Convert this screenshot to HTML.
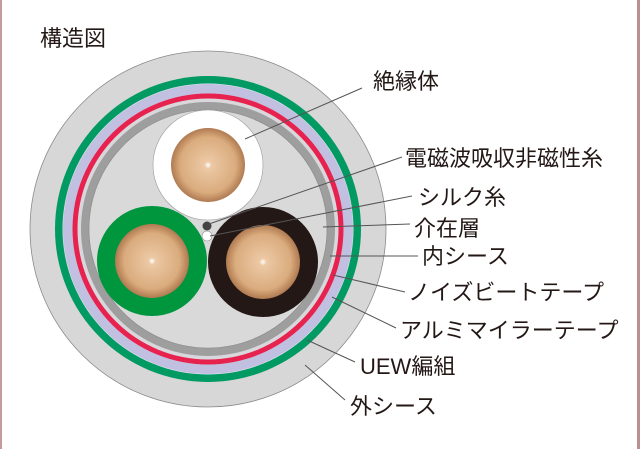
<!DOCTYPE html>
<html><head><meta charset="utf-8"><style>
html,body{margin:0;padding:0;background:#fff}
svg{display:block}
text{font-family:"Liberation Sans","Noto Sans CJK JP",sans-serif;fill:#231815;font-size:22px}
</style></head><body>
<svg width="640" height="449" viewBox="0 0 640 449" xmlns="http://www.w3.org/2000/svg">
<defs>
<radialGradient id="cu" cx="0.5" cy="0.5" r="0.5">
<stop offset="0" stop-color="#ffffff"/>
<stop offset="0.1" stop-color="#ecc8a4"/>
<stop offset="0.75" stop-color="#daac7e"/>
<stop offset="1" stop-color="#b07a50"/>
</radialGradient>
</defs>
<rect x="0" y="0" width="640" height="449" fill="#fff"/>
<rect x="0" y="0" width="2" height="449" fill="#c49a9a"/>
<rect x="637" y="0" width="3" height="449" fill="#b89090"/>
<text x="40" y="46" style="font-size:22px">構造図</text>
<circle cx="208" cy="229" r="178" fill="#d7d7d8" stroke="#8a8a8a" stroke-width="0.8"/>
<circle cx="208" cy="229" r="153" fill="#009a62"/>
<circle cx="208" cy="229" r="145.5" fill="#e8e8f2"/>
<circle cx="208" cy="229" r="145" fill="#c2c0e0"/>
<circle cx="208" cy="229" r="135.5" fill="#e8224e"/>
<circle cx="208" cy="229" r="130.5" fill="#d8d8dc"/>
<circle cx="208" cy="229" r="127" fill="#9e9e9e"/>
<circle cx="208" cy="229" r="119" fill="#d9d9da" stroke="#888" stroke-width="0.6"/>
<circle cx="208" cy="165" r="55" fill="#fff" stroke="#999" stroke-width="0.6"/>
<circle cx="208" cy="165" r="37" fill="url(#cu)"/>
<circle cx="152" cy="261" r="55" fill="#00963e"/>
<circle cx="152" cy="261" r="37" fill="url(#cu)"/>
<circle cx="263" cy="262" r="55" fill="#231815"/>
<circle cx="263" cy="262" r="37" fill="url(#cu)"/>
<circle cx="207" cy="226" r="4.5" fill="#444"/>
<circle cx="207" cy="236" r="5" fill="#fff" stroke="#888" stroke-width="0.6"/>
<g stroke="#555" stroke-width="1" fill="none">
<line x1="245" y1="139" x2="362" y2="88"/>
<line x1="209" y1="224" x2="402" y2="157"/>
<line x1="210" y1="236" x2="412" y2="196"/>
<line x1="323" y1="227" x2="410" y2="224"/>
<line x1="330" y1="256" x2="418" y2="256"/>
<line x1="333" y1="275" x2="405" y2="292"/>
<line x1="332" y1="297" x2="396" y2="328"/>
<line x1="307" y1="340" x2="355" y2="362"/>
<line x1="305" y1="365" x2="345" y2="400"/>
</g>
<text x="373" y="89">絶縁体</text>
<text x="405" y="166">電磁波吸収非磁性糸</text>
<text x="418" y="205">シルク糸</text>
<text x="414" y="236">介在層</text>
<text x="422" y="264">内シース</text>
<text x="408" y="300">ノイズビートテープ</text>
<text x="400" y="338">アルミマイラーテープ</text>
<text x="360" y="374">UEW編組</text>
<text x="350" y="414">外シース</text>
</svg>
</body></html>
